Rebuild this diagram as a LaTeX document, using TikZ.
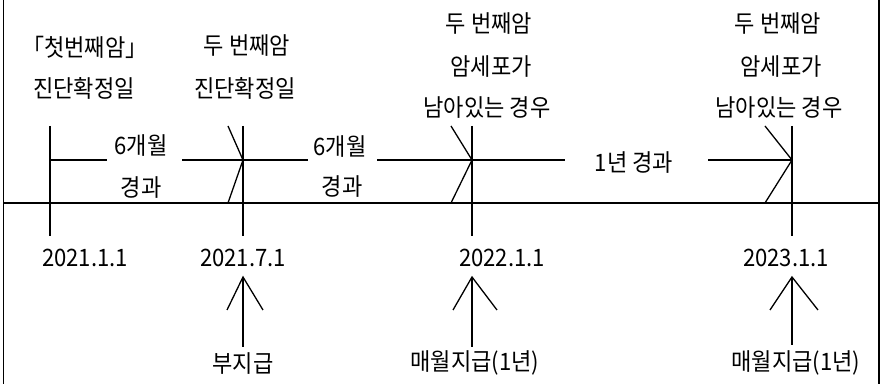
\documentclass[tikz,border=0pt]{standalone}
\usepackage{fontspec}
\setmainfont[FakeStretch=0.92]{Noto Sans CJK KR}

\begin{document}
\begin{tikzpicture}[x=0.5pt, y=-0.5pt, font=\fontsize{12}{14}\selectfont]

\tikzset{
  wire/.style={line width=0.65pt, draw=black},
  lab/.style={inner sep=0pt, text=black, align=center},
}

\useasboundingbox (0,0) rectangle (885,384);

\coordinate (fl1) at (3.5,0);   \coordinate (fl2) at (3.5,384);
\coordinate (fr1) at (879,0);   \coordinate (fr2) at (879,384);
\draw[wire] (fl1) -- (fl2);
\draw[wire] (fr1) -- (fr2);

\coordinate (axl) at (3.5,203);
\coordinate (axr) at (879,203);
\draw[wire] (axl) -- (axr);

\foreach \n/\x in {1/50, 2/243, 3/472, 4/792} {
  \coordinate (t\n a) at (\x,126);
  \coordinate (t\n m) at (\x,160);
  \coordinate (t\n b) at (\x,236);
  \draw[wire] (t\n a) -- (t\n b);
}

\node[lab] (d1a) at (85,47)  {｢첫번째암｣};
\node[lab] (d1b) at (84,88)  {진단확정일};
\node[lab] (d2a) at (247,46) {두 번째암};
\node[lab] (d2b) at (245,88) {진단확정일};
\node[lab] (d3a) at (489,24) {두 번째암};
\node[lab] (d3b) at (491,67) {암세포가};
\node[lab] (d3c) at (487,108) {남아있는 경우};
\node[lab] (d4a) at (778,24) {두 번째암};
\node[lab] (d4b) at (781,67) {암세포가};
\node[lab] (d4c) at (779,108) {남아있는 경우};

\node[lab] (m1) at (141,146) {6개월};
\node[lab] (g1) at (141,188) {경과};
\node[lab] (m2) at (340,147) {6개월};
\node[lab] (g2) at (342,187) {경과};
\node[lab] (yr) at (634,163) {1년 경과};

\coordinate (s1) at (107,160);
\coordinate (s2) at (182,160);
\coordinate (s3) at (308,160);
\coordinate (s4) at (377,160);
\coordinate (s5) at (565,160);
\coordinate (s6) at (708,160);

\draw[wire] (t1m) -- (s1);
\draw[wire] (s2) -- (t2m);
\draw[wire] (t2m) -- (s3);
\draw[wire] (s4) -- (t3m);
\draw[wire] (t3m) -- (s5);
\draw[wire] (s6) -- (t4m);

\coordinate (h2a) at (228,126); \coordinate (h2b) at (228,203);
\coordinate (h3a) at (451,126); \coordinate (h3b) at (451,203);
\coordinate (h4a) at (765,126); \coordinate (h4b) at (765,203);
\draw[wire] (h2a) -- (t2m) -- (h2b);
\draw[wire] (h3a) -- (t3m) -- (h3b);
\draw[wire] (h4a) -- (t4m) -- (h4b);

\node[lab] (dt1) at (85,258)  {2021.1.1};
\node[lab] (dt2) at (243,258) {2021.7.1};
\node[lab] (dt3) at (502,258) {2022.1.1};
\node[lab] (dt4) at (786,258) {2023.1.1};

\node[lab] (p2) at (243,364) {부지급};
\node[lab] (p3) at (475,363) {매월지급(1년)};
\node[lab] (p4) at (796,363) {매월지급(1년)};

\coordinate (u2t) at (243,277); \coordinate (u2b) at (243,347);
\coordinate (u3t) at (472,277); \coordinate (u3b) at (472,347);
\coordinate (u4t) at (792,277); \coordinate (u4b) at (792,345);
\coordinate (u2l) at (227,310); \coordinate (u2r) at (263,310);
\coordinate (u3l) at (453,310); \coordinate (u3r) at (497,310);
\coordinate (u4l) at (770,310); \coordinate (u4r) at (818,310);

\draw[wire] (u2b) -- (u2t);
\draw[wire] (u3b) -- (u3t);
\draw[wire] (u4b) -- (u4t);
\draw[wire] (u2l) -- (u2t) -- (u2r);
\draw[wire] (u3l) -- (u3t) -- (u3r);
\draw[wire] (u4l) -- (u4t) -- (u4r);

\end{tikzpicture}
\end{document}
